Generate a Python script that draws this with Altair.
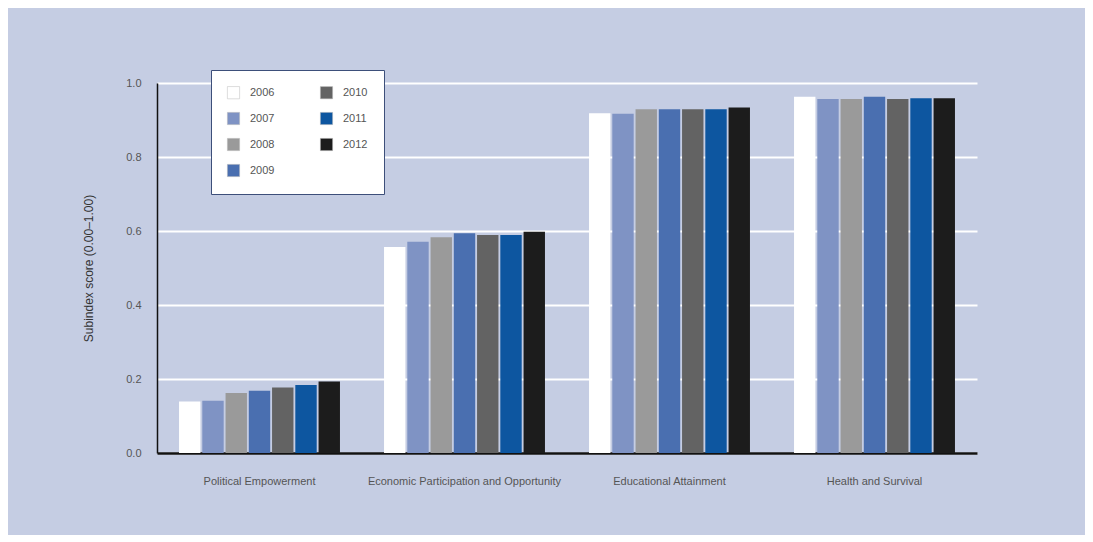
import altair as alt
import pandas as pd

categories = ["Political Empowerment", "Economic Participation and Opportunity",
              "Educational Attainment", "Health and Survival"]
years = ["2006", "2007", "2008", "2009", "2010", "2011", "2012"]
political = [0.139, 0.141, 0.162, 0.168, 0.177, 0.184, 0.193]
economic = [0.557, 0.571, 0.583, 0.594, 0.589, 0.589, 0.598]
education = [0.918, 0.917, 0.929, 0.929, 0.929, 0.929, 0.934]
health = [0.963, 0.957, 0.957, 0.963, 0.957, 0.959, 0.959]
colors = ["#ffffff", "#7f93c4", "#9a9a9a", "#4a6fb0", "#636363", "#0d56a0", "#1c1c1c"]

series = [political, economic, education, health]
rows = []
for cat, vals in zip(categories, series):
    for y, v in zip(years, vals):
        rows.append({"category": cat, "year": y, "score": v})
df = pd.DataFrame(rows)

bg = "#c5cde3"

chart = alt.Chart(df).mark_bar().encode(
    x=alt.X("category:N", sort=categories, title=None,
            scale=alt.Scale(paddingInner=0.215, paddingOuter=0.1075),
            axis=alt.Axis(labelAngle=0, labelPadding=22, ticks=False, labelLimit=400,
                          domainColor="#111111", domainWidth=2.5,
                          labelColor="#555555", labelFontSize=11)),
    xOffset=alt.XOffset("year:N", sort=years, scale=alt.Scale(paddingInner=0.08)),
    y=alt.Y("score:Q", title="Subindex score (0.00–1.00)",
            scale=alt.Scale(domain=[0, 1], nice=False),
            axis=alt.Axis(values=[0, 0.2, 0.4, 0.6, 0.8, 1.0], format=".1f",
                          ticks=False, labelPadding=16, gridColor="#ffffff",
                          gridWidth=2, domainColor="#111111", domainWidth=1.5,
                          labelColor="#555555", labelFontSize=11,
                          titleColor="#333333", titleFontWeight="normal",
                          titleFontSize=12, titlePadding=30)),
    color=alt.Color("year:N",
                    scale=alt.Scale(domain=years, range=colors),
                    legend=alt.Legend(title=None, orient="none", legendX=54, legendY=-13,
                                      columns=2, symbolType="square", symbolSize=150,
                                      symbolStrokeColor="#bbbbbb", symbolStrokeWidth=0.5,
                                      rowPadding=11, columnPadding=44, padding=16,
                                      fillColor="#ffffff", strokeColor="#3d4f7a",
                                      labelFontSize=11, labelColor="#555555",
                                      labelOffset=10)),
).properties(
    width=820, height=370,
    autosize=alt.AutoSizeParams(type="none"),
    padding={"left": 149, "top": 75, "right": 108, "bottom": 82},
).configure(
    background=bg, font="Liberation Sans"
).configure_view(
    stroke=None, fill=bg
)

chart.save("out.html", embed_options={"renderer": "svg", "actions": False})
